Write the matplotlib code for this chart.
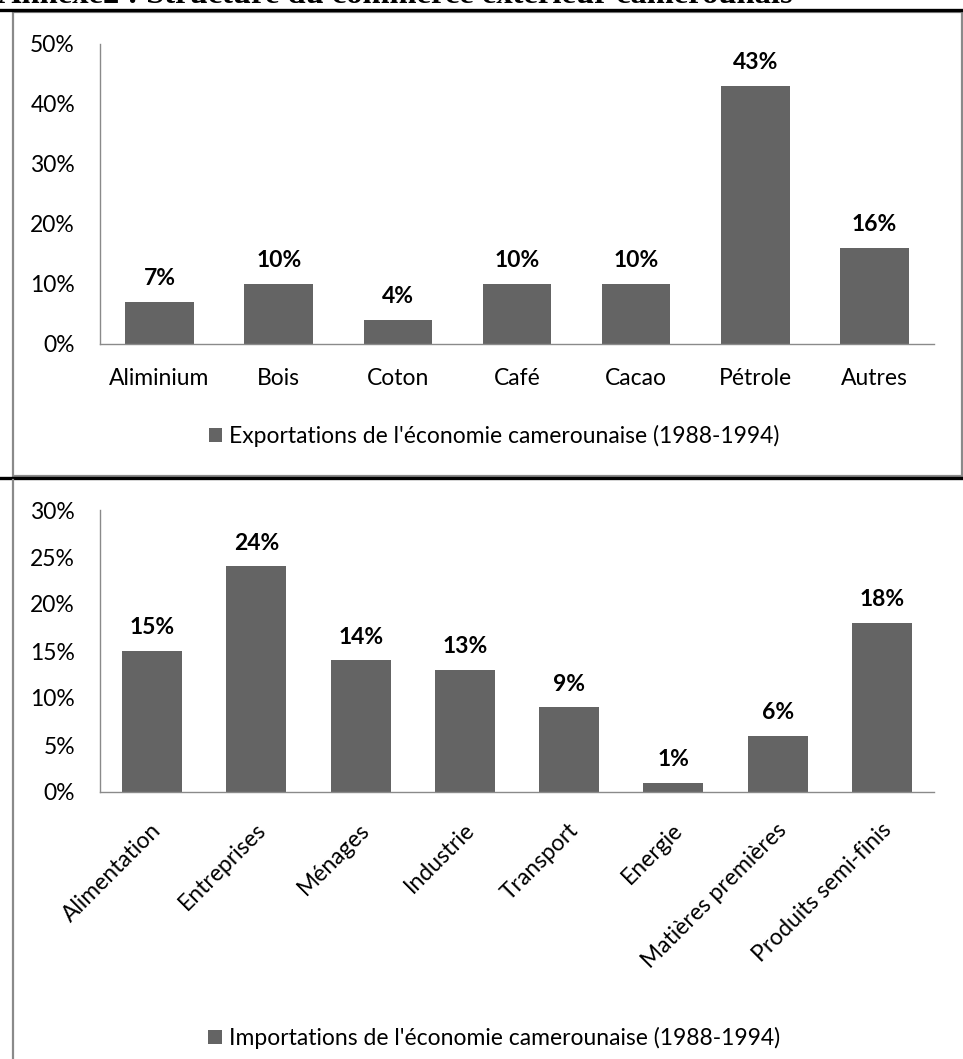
import matplotlib

matplotlib.use("Agg")
import matplotlib.pyplot as plt
import matplotlib.transforms as mtransforms
from matplotlib.lines import Line2D
from matplotlib.patches import Patch, Rectangle

# data
export_labels = ["Aliminium", "Bois", "Coton", "Café", "Cacao", "Pétrole", "Autres"]
export_values = [7, 10, 4, 10, 10, 43, 16]
import_labels = [
    "Alimentation",
    "Entreprises",
    "Ménages",
    "Industrie",
    "Transport",
    "Energie",
    "Matières premières",
    "Produits semi-finis",
]
import_values = [15, 24, 14, 13, 9, 1, 6, 18]

export_ticks = [0, 10, 20, 30, 40, 50]
import_ticks = [0, 5, 10, 15, 20, 25, 30]

title = "Annexe2 : Structure du commerce extérieur camerounais"
export_legend = "Exportations de l'économie camerounaise (1988-1994)"
import_legend = "Importations de l'économie camerounaise (1988-1994)"

BAR = "#646464"
SPINE = "#8a8a8a"
FONT = "Lato"
FS = 16.5

W, H = 963, 1059
plt.rcParams["font.family"] = [FONT, "DejaVu Sans"]

fig = plt.figure(figsize=(W / 100, H / 100), dpi=100)


def fx(px):
    return px / W


def fy(py):
    return 1 - py / H


def bar_panel(rect, labels, values, ticks, rotate):
    ax = fig.add_axes(rect)
    xs = range(len(labels))
    ax.bar(xs, values, width=0.575, color=BAR, zorder=2)
    ax.set_xlim(-0.5, len(labels) - 0.5)
    ax.set_ylim(ticks[0], ticks[-1])
    ax.set_yticks(ticks)
    ax.set_yticklabels([f"{t}%" for t in ticks], fontsize=FS)
    ax.set_xticks(list(xs))
    for side in ("top", "right"):
        ax.spines[side].set_visible(False)
    for side in ("left", "bottom"):
        ax.spines[side].set_color(SPINE)
        ax.spines[side].set_linewidth(1.0)
    ax.tick_params(axis="y", length=0, pad=18)
    if rotate:
        ax.set_xticklabels(labels, fontsize=FS, rotation=45, ha="right",
                           va="center", rotation_mode="anchor")
        ax.tick_params(axis="x", length=0, pad=25)
        shift = mtransforms.ScaledTranslation(6 / 100, 0, fig.dpi_scale_trans)
        for lab in ax.get_xticklabels():
            lab.set_transform(lab.get_transform() + shift)
    else:
        ax.set_xticklabels(labels, fontsize=FS)
        ax.tick_params(axis="x", length=0, pad=17)
    for x, v in zip(xs, values):
        ax.annotate(f"{v}%", (x, v), xytext=(0, 12), textcoords="offset points",
                    ha="center", va="baseline", fontsize=FS, fontweight="bold")
    return ax


ax1 = bar_panel([fx(100), fy(344), fx(834), (344 - 44) / H],
                export_labels, export_values, export_ticks, rotate=False)
ax2 = bar_panel([fx(100), fy(792), fx(834), (792 - 510) / H],
                import_labels, import_values, import_ticks, rotate=True)

for ax, text, ypx in ((ax1, export_legend, 436), (ax2, import_legend, 1038)):
    ax.legend(handles=[Patch(facecolor=BAR, edgecolor="none", label=text)],
              loc="center", bbox_to_anchor=(fx(494), fy(ypx)),
              bbox_transform=fig.transFigure, frameon=False, fontsize=FS,
              handlelength=0.6, handleheight=0.6, handletextpad=0.3)

# page decoration: title cut at the top, rules and chart frames
fig.text(fx(-2), fy(3), title, fontsize=23.4, fontweight="bold",
         family="Liberation Serif", ha="left", va="baseline")
fig.add_artist(Line2D([0, 1], [fy(9.5), fy(9.5)], color="black", lw=2.4))
fig.add_artist(Rectangle((fx(12.5), fy(476)), fx(962 - 12.5), (476 - 12) / H,
                         fill=False, edgecolor=SPINE, lw=1.6))
fig.add_artist(Line2D([0, 1], [fy(477.5), fy(477.5)], color="black", lw=2.4))
fig.add_artist(Line2D([fx(12.5), fx(12.5)], [fy(480), 0], color=SPINE, lw=1.6))

fig.savefig("out.png", dpi=100)
